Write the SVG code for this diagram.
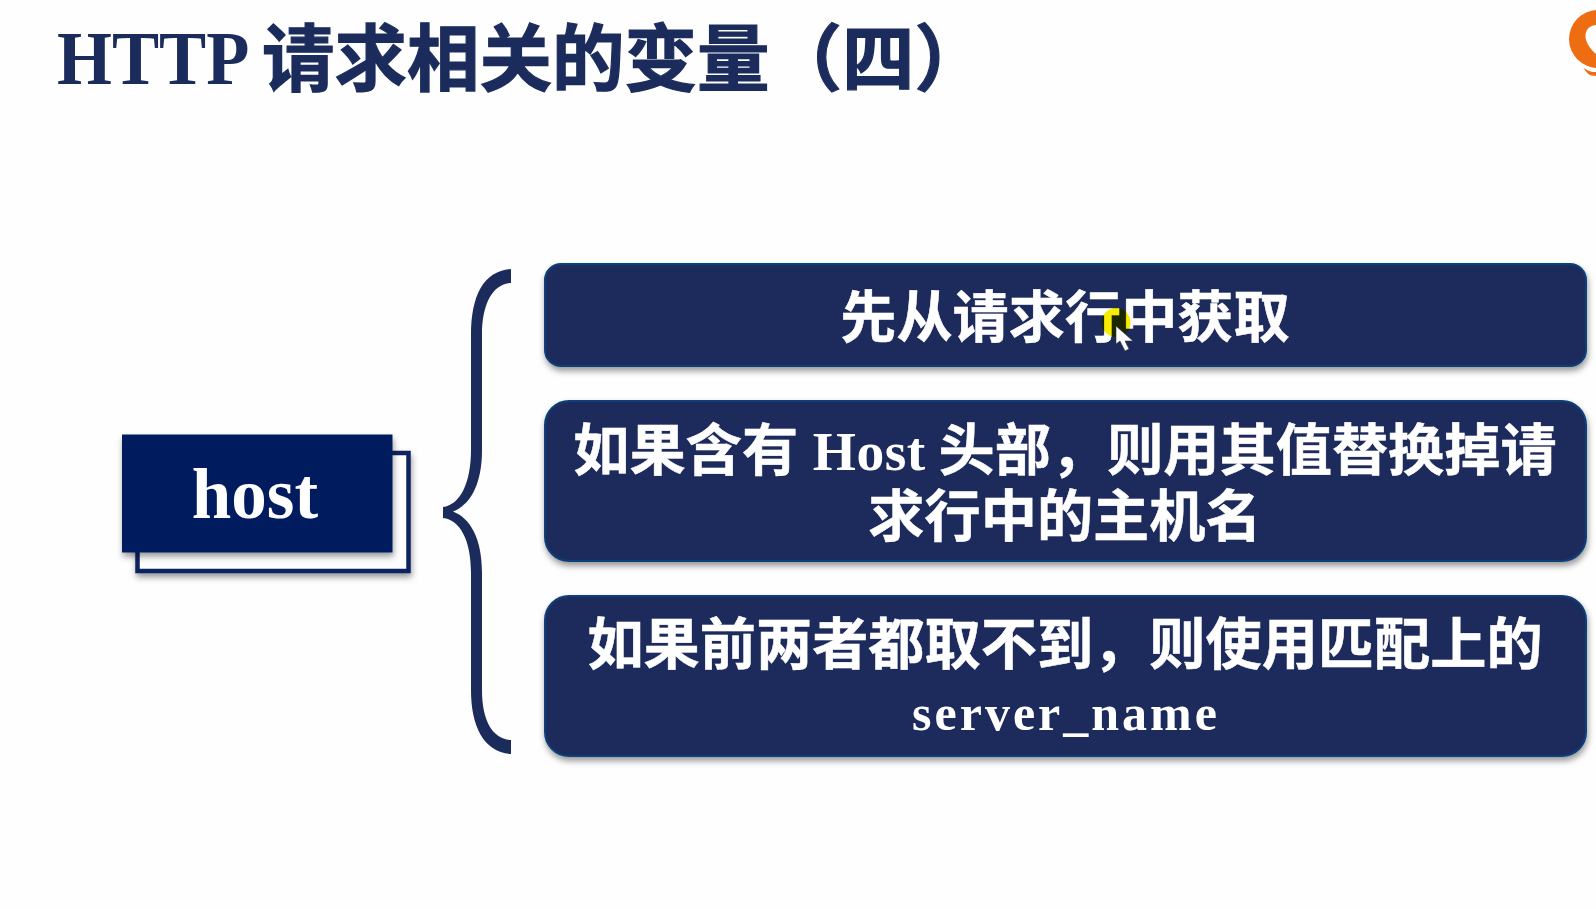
<svg xmlns="http://www.w3.org/2000/svg" width="1596" height="909" viewBox="0 0 1596 909">
<defs>
<style>
.cjk{font-family:"Noto Sans CJK SC","Noto Sans",sans-serif;font-weight:700;}
.ser{font-family:"Liberation Serif",serif;font-weight:700;}
.w{fill:#ffffff;font-size:56.200px;text-anchor:middle;stroke:#ffffff;stroke-width:.5;}
.box{fill:#1b2c5c;stroke:#0f3f78;stroke-width:2;filter:url(#sh);}
</style>
<filter id="sh" x="-5%" y="-10%" width="110%" height="125%"><feDropShadow dx="1" dy="4" stdDeviation="3" flood-color="#000" flood-opacity=".4"/></filter>
</defs>
<rect width="1596" height="909" fill="#fefefe"/>
<g id="title"><text transform="translate(57 84) scale(.93 1)" fill="#1b2c5c" font-size="76" class="ser">HTTP</text><text x="262" y="85" fill="#1b2c5c" stroke="#1b2c5c" stroke-width="1.200" font-size="72.500" class="cjk">请求相关的变量（四）</text></g>
<g id="logo"><circle cx="1598" cy="39" r="29" fill="#ee6c12"/><path d="M1596 25C1584 26 1580 40 1596 54Z" fill="#fefefe"/><path d="M1583 66Q1590 72 1596 72V76Q1586 76 1583 66Z" fill="#ee6c12"/><path d="M1578 60Q1586 69 1596 69V72Q1587 72 1582 66Z" fill="#fefefe"/></g>
<g id="connectors"><path id="brace" fill="#1b2c5c" d="M511 269V283C492 284 482 305 482 335V450C482 485 470 505 453 511.500C470 518 482 538 482 573V690C482 720 492 739 511 740V754C484 752 471 727 471 690V573C471 540 460 520 443 518V507C460 505 471 483 471 450V335C471 295 484 271 511 269Z"/></g>
<g id="host"><rect x="137.500" y="453" width="271" height="118" fill="#fefefe" stroke="#0a2260" stroke-width="4.500" filter="url(#sh)"/><rect x="122" y="434.500" width="270.500" height="118" fill="#001f5f" filter="url(#sh)"/><text x="255" y="518" class="ser" font-size="71" fill="#fff" text-anchor="middle">host</text></g>
<g id="box1"><rect class="box" x="545" y="264" width="1041" height="102" rx="16"/><text x="1065" y="337" class="cjk w">先从请求行中获取</text></g>
<g id="box2"><rect class="box" x="545" y="401" width="1041" height="160" rx="24"/><text x="1065" y="470" class="cjk w">如果含有 <tspan class="ser" dx="2" style="font-size:55.500px;stroke-width:0;letter-spacing:.5px">Host</tspan> 头部，则用其值替换掉请</text><text x="1065" y="536" class="cjk w">求行中的主机名</text></g>
<g id="box3"><rect class="box" x="545" y="596" width="1041" height="160" rx="24"/><text x="1065" y="664" class="cjk w">如果前两者都取不到，则使用匹配上的</text><text x="1066" y="730" class="ser w" style="font-size:50px;letter-spacing:3px;stroke-width:0">server_name</text></g>
<g id="cursor"><circle cx="1116" cy="322.500" r="14.500" fill="#f8ec00" style="mix-blend-mode:multiply"/><path d="M1116 326V344L1120 341L1125 351L1129 349L1125 341L1133 341Z" fill="#fff" stroke="#333" stroke-width=".6"/></g>
</svg>
